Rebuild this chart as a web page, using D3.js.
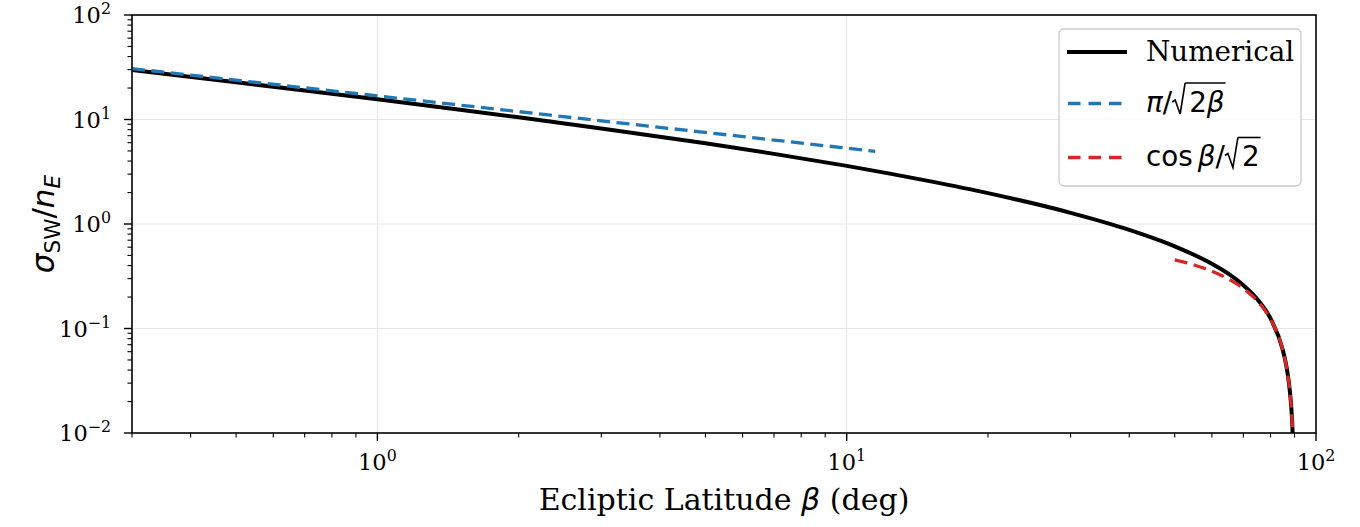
<!DOCTYPE html>
<html><head><meta charset="utf-8">
<script src="https://cdn.jsdelivr.net/npm/d3@7"></script>
<style>body{margin:0;background:#fff;overflow:hidden}</style>
</head><body>
<svg id="c" width="1360" height="527"></svg>
<script>
// ---- data ----
const betaNum  = [0.3, 0.5, 0.7, 1, 1.5, 2, 3, 5, 7, 10, 15, 20, 30, 40, 50, 60, 65, 70, 75, 80, 85, 86, 87, 88, 88.5, 89, 89.5];
const sigmaNum = [29.76, 22.73, 18.96, 15.59, 12.41, 10.50, 8.22, 5.92, 4.69, 3.60, 2.57, 1.973, 1.279, 0.879, 0.612, 0.416, 0.335, 0.260, 0.1905, 0.1250, 0.0619, 0.0495, 0.0371, 0.0247, 0.01852, 0.01234, 0.00617];
const betaSmall  = [0.3, 0.5, 1, 2, 3, 5, 7, 10, 11.5];
const sigmaSmall = [30.70, 23.78, 16.82, 11.89, 9.71, 7.52, 6.36, 5.32, 4.96];
const betaPolar  = [50, 55, 60, 65, 70, 75, 80, 85, 86, 87, 88, 88.5, 89, 89.5];
const sigmaPolar = [0.4545, 0.4056, 0.3536, 0.2988, 0.2418, 0.1830, 0.1228, 0.0616, 0.0493, 0.0370, 0.0247, 0.0185, 0.01234, 0.00617];
const xMajor = [1, 10, 100];
const xMajorExp = ["0", "1", "2"];
const yMajor = [0.01, 0.1, 1, 10, 100];
const yMajorExp = ["\u22122", "\u22121", "0", "1", "2"];
const xLabel = ["Ecliptic Latitude ", "\u03b2", " (deg)"];
const legendLabels = ["Numerical", "pi", "cos"];

// ---- layout ----
const L = 132, R = 1316, T = 15, B = 433;
const svg = d3.select("#c");
const x = d3.scaleLog().domain([0.3, 100]).range([L, R]);
const y = d3.scaleLog().domain([0.01, 100]).range([B, T]);
const SERIF = "'DejaVu Serif', serif";
const SANS = "'DejaVu Sans', sans-serif";

// grid
const grid = svg.append("g");
[1, 10].forEach(v => grid.append("line").attr("x1", x(v)).attr("x2", x(v)).attr("y1", T).attr("y2", B)
  .attr("stroke", "#e6e6e6").attr("stroke-width", 1));
[0.1, 1, 10].forEach(v => grid.append("line").attr("x1", L).attr("x2", R).attr("y1", y(v)).attr("y2", y(v))
  .attr("stroke", "#e6e6e6").attr("stroke-width", 1));

// clip
svg.append("clipPath").attr("id", "clip").append("rect").attr("x", L).attr("y", T).attr("width", R - L).attr("height", B - T);

const line = d3.line().x(d => x(d[0])).y(d => y(d[1])).curve(d3.curveMonotoneX);
const plot = svg.append("g").attr("clip-path", "url(#clip)");
plot.append("path").datum(betaNum.map((b, i) => [b, sigmaNum[i]])).attr("d", line)
  .attr("fill", "none").attr("stroke", "#000").attr("stroke-width", 4).attr("stroke-linejoin", "round");
plot.append("path").datum(betaSmall.map((b, i) => [b, sigmaSmall[i]])).attr("d", line)
  .attr("fill", "none").attr("stroke", "#1f77b4").attr("stroke-width", 3.3).attr("stroke-dasharray", "13,6.5");
plot.append("path").datum(betaPolar.map((b, i) => [b, sigmaPolar[i]])).attr("d", line)
  .attr("fill", "none").attr("stroke", "#d62728").attr("stroke-width", 3.3).attr("stroke-dasharray", "13,6.5");

// axes frame
svg.append("rect").attr("x", L).attr("y", T).attr("width", R - L).attr("height", B - T)
  .attr("fill", "none").attr("stroke", "#000").attr("stroke-width", 1.6);

// x ticks
const ax = svg.append("g");
const xMinor = [];
[0.1, 1, 10].forEach(d => { for (let k = 2; k <= 9; k++) { const v = d * k; if (v >= 0.3 && v < 100) xMinor.push(v); } });
xMinor.forEach(v => ax.append("line").attr("x1", x(v)).attr("x2", x(v)).attr("y1", B).attr("y2", B + 4.5).attr("stroke", "#000").attr("stroke-width", 1.1));
xMajor.forEach((v, i) => {
  ax.append("line").attr("x1", x(v)).attr("x2", x(v)).attr("y1", B).attr("y2", B + 8).attr("stroke", "#000").attr("stroke-width", 1.4);
  const t = ax.append("text").attr("x", x(v)).attr("y", 470).attr("text-anchor", "middle")
    .attr("font-family", SERIF).attr("font-size", 22.5);
  t.append("tspan").text("10");
  t.append("tspan").attr("dy", -9).attr("font-size", 15.8).text(xMajorExp[i]);
});
// y ticks
const yMinor = [];
[0.01, 0.1, 1, 10].forEach(d => { for (let k = 2; k <= 9; k++) yMinor.push(d * k); });
yMinor.forEach(v => ax.append("line").attr("x1", L - 4.5).attr("x2", L).attr("y1", y(v)).attr("y2", y(v)).attr("stroke", "#000").attr("stroke-width", 1.1));
yMajor.forEach((v, i) => {
  ax.append("line").attr("x1", L - 8).attr("x2", L).attr("y1", y(v)).attr("y2", y(v)).attr("stroke", "#000").attr("stroke-width", 1.4);
  const t = ax.append("text").attr("x", 111).attr("y", y(v) + 8).attr("text-anchor", "end")
    .attr("font-family", SERIF).attr("font-size", 22.5);
  t.append("tspan").text("10");
  t.append("tspan").attr("dy", -9).attr("font-size", 15.8).text(yMajorExp[i]);
});

// x label
const xl = svg.append("text").attr("x", (L + R) / 2).attr("y", 510).attr("text-anchor", "middle")
  .attr("font-family", SERIF).attr("font-size", 30);
xl.append("tspan").text(xLabel[0]);
xl.append("tspan").attr("font-family", SANS).attr("font-style", "italic").text(xLabel[1]);
xl.append("tspan").text(xLabel[2]);

// y label
const yl = svg.append("text").attr("transform", `translate(54,${(T + B) / 2}) rotate(-90)`).attr("text-anchor", "middle")
  .attr("font-family", SANS).attr("font-size", 31);
yl.append("tspan").attr("font-style", "italic").text("\u03c3");
yl.append("tspan").attr("font-size", 21.5).attr("dy", 6).text("SW");
yl.append("tspan").attr("dy", -6).text("/");
yl.append("tspan").attr("font-style", "italic").text("n");
yl.append("tspan").attr("font-size", 21.5).attr("font-style", "italic").attr("dy", 6).text("E");

// legend
const lg = svg.append("g");
lg.append("rect").attr("x", 1059).attr("y", 29).attr("width", 242).attr("height", 157).attr("rx", 5)
  .attr("fill", "#fff").attr("fill-opacity", 0.8).attr("stroke", "#cccccc").attr("stroke-width", 1.3);
const hx1 = 1067, hx2 = 1127, tx = 1146;
const rows = [52, 103.5, 157.5];
lg.append("line").attr("x1", hx1).attr("x2", hx2).attr("y1", rows[0]).attr("y2", rows[0]).attr("stroke", "#000").attr("stroke-width", 4);
lg.append("line").attr("x1", hx1 + 1).attr("x2", hx2).attr("y1", rows[1]).attr("y2", rows[1]).attr("stroke", "#1f77b4").attr("stroke-width", 3.3).attr("stroke-dasharray", "12.5,8");
lg.append("line").attr("x1", hx1 + 1).attr("x2", hx2).attr("y1", rows[2]).attr("y2", rows[2]).attr("stroke", "#d62728").attr("stroke-width", 3.3).attr("stroke-dasharray", "12.5,8");

lg.append("text").attr("x", tx).attr("y", 61).attr("font-family", SERIF).attr("font-size", 27.8).text(legendLabels[0]);

// helper: lay out pieces of math text; a piece {rad:true} draws a radical sign whose bar spans the following pieces
function mathRow(yb, top, parts) {
  let cx = tx;
  let radStart = null;
  parts.forEach(p => {
    if (p.rad) {
      const rx = cx;
      lg.append("path")
        .attr("d", `M${rx},${yb - 10} L${rx + 3},${yb - 12} L${rx + 8},${yb + 2} L${rx + 13},${top}`)
        .attr("fill", "none").attr("stroke", "#000").attr("stroke-width", 1.6).attr("stroke-linejoin", "miter");
      radStart = rx + 13;
      cx = rx + 17;
      return;
    }
    const t = lg.append("text").attr("x", cx).attr("y", yb).attr("font-family", SANS).attr("font-size", 27.8)
      .attr("font-style", p.italic ? "italic" : "normal").text(p.s);
    cx += t.node().getComputedTextLength() + (p.gap || 0);
  });
  if (radStart !== null) {
    lg.append("line").attr("x1", radStart).attr("x2", cx + 1).attr("y1", top).attr("y2", top)
      .attr("stroke", "#000").attr("stroke-width", 1.6);
  }
}
mathRow(112, 83, [{s: "\u03c0", italic: true}, {s: "/"}, {rad: true}, {s: "2"}, {s: "\u03b2", italic: true}]);
mathRow(165.5, 137.5, [{s: "cos", gap: 5}, {s: "\u03b2", italic: true}, {s: "/"}, {rad: true}, {s: "2"}]);
</script>
</body></html>
